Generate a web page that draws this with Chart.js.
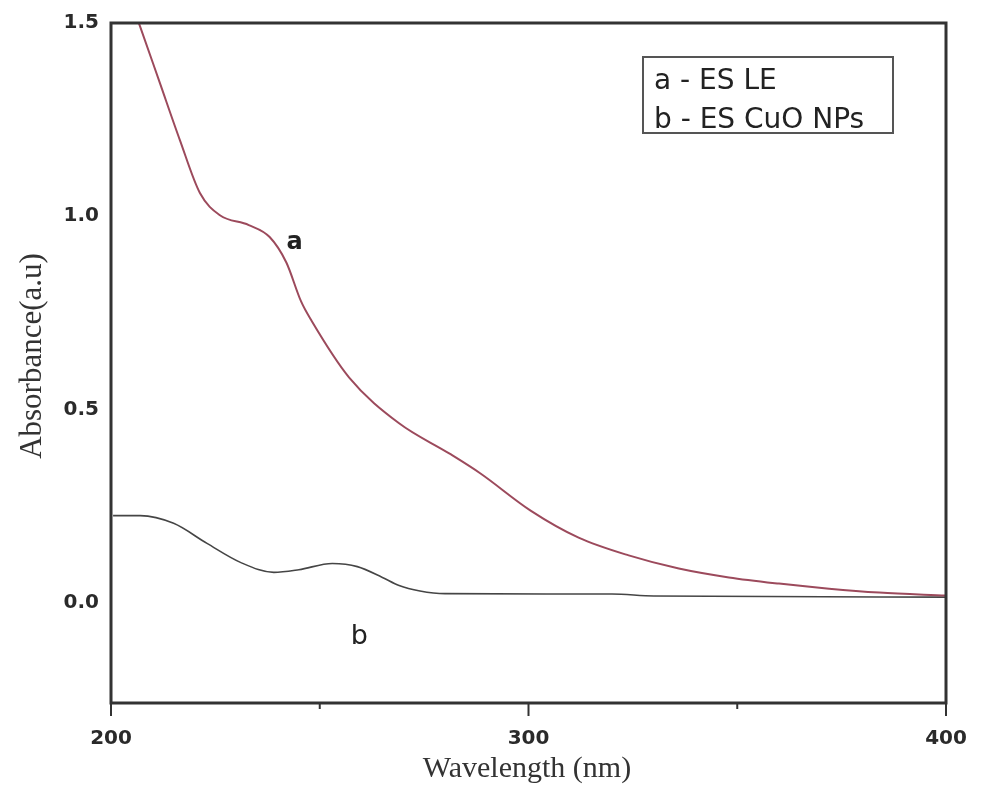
<!DOCTYPE html>
<html>
<head>
<meta charset="utf-8">
<script src="https://cdn.jsdelivr.net/npm/chart.js@4.4.1/dist/chart.umd.min.js"></script>
<style>
  html, body { margin: 0; padding: 0; background: #fff; }
  #wrap { position: relative; width: 981px; height: 787px; }
</style>
</head>
<body>
<div id="wrap"><canvas id="chart"></canvas></div>
<script>
// curve a - ES LE
const waveA = [204, 207, 211.7, 216.5, 221.3, 226, 233, 238, 242, 245.5, 248, 257, 269, 281, 288.5, 300.5, 312, 324, 336, 348, 360, 372, 384, 400];
const absA  = [1.58, 1.49, 1.345, 1.197, 1.06, 1.003, 0.977, 0.946, 0.88, 0.78, 0.73, 0.583, 0.464, 0.386, 0.334, 0.238, 0.168, 0.122, 0.088, 0.065, 0.049, 0.036, 0.026, 0.018];

// curve b - ES CuO NPs
const waveB = [200.5, 207, 215, 223, 231, 239, 245, 253, 259, 265, 269, 274, 280, 320, 330, 400];
const absB  = [0.225, 0.225, 0.205, 0.153, 0.104, 0.078, 0.085, 0.101, 0.093, 0.065, 0.044, 0.030, 0.023, 0.022, 0.017, 0.014];

const seriesLabels = ['a - ES LE', 'b - ES CuO NPs'];
const xTicks = [200, 250, 300, 350, 400];
const xMajor = [200, 300, 400];
const yTicks = [0, 0.5, 1.0, 1.5];

const toPts = (xs, ys) => xs.map((x, i) => ({ x: x, y: ys[i] }));

// frame, ticks, axis titles, legend box and curve labels
const decor = {
  id: 'decor',
  afterDraw(chart) {
    const { ctx, chartArea: a, scales } = chart;
    const xs = scales.x, ys = scales.y;
    ctx.save();
    ctx.strokeStyle = '#333';
    ctx.lineWidth = 3;
    ctx.strokeRect(a.left, a.top, a.right - a.left, a.bottom - a.top);

    // bottom ticks
    ctx.lineWidth = 2;
    xTicks.forEach(v => {
      const px = xs.getPixelForValue(v);
      const len = xMajor.includes(v) ? 13 : 6;
      ctx.beginPath();
      ctx.moveTo(px, a.bottom);
      ctx.lineTo(px, a.bottom + len);
      ctx.stroke();
    });

    // axis titles
    ctx.fillStyle = '#333';
    ctx.font = '30px "Liberation Serif", "Times New Roman", serif';
    ctx.textAlign = 'center';
    ctx.textBaseline = 'alphabetic';
    ctx.fillText('Wavelength (nm)', 527, 777);
    ctx.save();
    ctx.translate(41, 356);
    ctx.rotate(-Math.PI / 2);
    ctx.font = '31px "Liberation Serif", "Times New Roman", serif';
    ctx.fillText('Absorbance(a.u)', 0, 0);
    ctx.restore();

    // legend
    ctx.lineWidth = 2;
    ctx.strokeStyle = '#555';
    ctx.strokeRect(643, 57, 250, 76);
    ctx.font = '28px "DejaVu Sans", sans-serif';
    ctx.textAlign = 'left';
    ctx.fillStyle = '#222';
    ctx.fillText(seriesLabels[0], 654, 89);
    ctx.fillText(seriesLabels[1], 654, 128);

    // curve labels
    ctx.textAlign = 'center';
    ctx.textBaseline = 'middle';
    ctx.font = 'bold 24px "DejaVu Sans", sans-serif';
    ctx.fillText('a', xs.getPixelForValue(244), ys.getPixelForValue(0.93));
    ctx.font = '27px "DejaVu Sans", sans-serif';
    ctx.fillText('b', xs.getPixelForValue(259.5), ys.getPixelForValue(-0.09));
    ctx.restore();
  }
};

new Chart(document.getElementById('chart'), {
  type: 'line',
  data: {
    datasets: [
      {
        label: seriesLabels[0],
        data: toPts(waveA, absA),
        borderColor: '#9c4a5c',
        borderWidth: 2,
        pointRadius: 0,
        cubicInterpolationMode: 'monotone',
        fill: false,
      },
      {
        label: seriesLabels[1],
        data: toPts(waveB, absB),
        borderColor: '#454545',
        borderWidth: 1.6,
        pointRadius: 0,
        cubicInterpolationMode: 'monotone',
        fill: false,
      },
    ],
  },
  options: {
    responsive: true,
    maintainAspectRatio: false,
    animation: false,
    layout: { padding: { top: 23, right: 35, left: 0, bottom: 0 } },
    plugins: {
      legend: { display: false },
      tooltip: { enabled: false },
    },
    scales: {
      x: {
        type: 'linear',
        min: 200,
        max: 400,
        afterBuildTicks: s => { s.ticks = xMajor.map(v => ({ value: v })); },
        afterFit: s => { s.height = 84; s.paddingLeft = 0; s.paddingRight = 0; },
        grid: { display: false, drawTicks: false },
        border: { display: false },
        ticks: {
          padding: 24,
          color: '#2a2a2a',
          font: { family: '"DejaVu Sans", sans-serif', size: 20, weight: 'bold' },
          maxRotation: 0,
        },
      },
      y: {
        type: 'linear',
        min: -0.26,
        max: 1.5,
        afterBuildTicks: s => { s.ticks = yTicks.map(v => ({ value: v })); },
        afterFit: s => { s.width = 111; s.paddingTop = 0; s.paddingBottom = 0; },
        grid: { display: false, drawTicks: false },
        border: { display: false },
        ticks: {
          padding: 12,
          color: '#2a2a2a',
          font: { family: '"DejaVu Sans", sans-serif', size: 20, weight: 'bold' },
          callback: v => Number(v).toFixed(1),
        },
      },
    },
  },
  plugins: [decor],
});
</script>
</body>
</html>
